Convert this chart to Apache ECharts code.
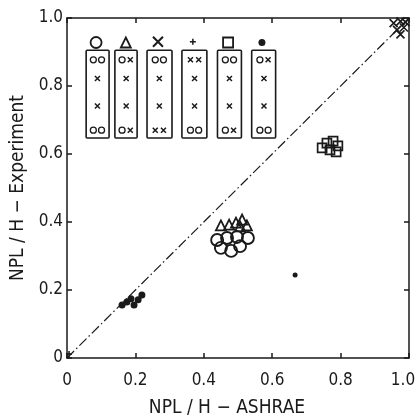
<!DOCTYPE html>
<html>
<head>
<meta charset="utf-8">
<script src="https://cdn.jsdelivr.net/npm/echarts@6/dist/echarts.min.js"></script>
<style>
  html, body { margin: 0; padding: 0; background: #fff; }
  #chart { width: 419px; height: 418px; }
</style>
</head>
<body>
<div id="chart"></div>
<script>
// 轴刻度
const ticks = [0, 0.2, 0.4, 0.6, 0.8, 1.0];
const tickLabels = ['0', '0.2', '0.4', '0.6', '0.8', '1.0'];

// 测量点 [ASHRAE, Experiment]
const circlePts = [[0.439, 0.347], [0.468, 0.353], [0.497, 0.356], [0.529, 0.353], [0.450, 0.324], [0.480, 0.315], [0.506, 0.329]];
const trianglePts = [[0.450, 0.390], [0.474, 0.392], [0.494, 0.398], [0.512, 0.407], [0.526, 0.390], [0.506, 0.387]];
const crossPts = [[0.955, 0.985], [0.975, 0.99], [0.965, 0.965], [0.985, 0.972], [0.975, 0.952], [0.99, 0.988]];
const plusPts = [[0.006, 0.012]];
const squarePts = [[0.746, 0.618], [0.760, 0.632], [0.778, 0.638], [0.792, 0.624], [0.769, 0.612], [0.787, 0.606]];
const dotPts = [[0.161, 0.156], [0.175, 0.165], [0.187, 0.174], [0.196, 0.156], [0.208, 0.171], [0.219, 0.185]];
const strayDot = [[0.667, 0.244]];
const diagonal = [[0, 0], [1, 1]];

// 图例框（左上）：[x0, x1, y0, y1]
const insetBoxes = [
  [0.056, 0.123, 0.647, 0.905], [0.140, 0.205, 0.647, 0.905], [0.234, 0.307, 0.647, 0.905],
  [0.336, 0.409, 0.647, 0.905], [0.440, 0.510, 0.647, 0.905], [0.540, 0.610, 0.647, 0.905]
];
const insetHeadCircle = [[0.085, 0.928]];
const insetHeadTriangle = [[0.172, 0.928]];
const insetHeadCross = [[0.266, 0.930]];
const insetHeadPlus = [[0.368, 0.930]];
const insetHeadSquare = [[0.471, 0.928]];
const insetHeadDot = [[0.570, 0.928]];
const insetCircles = [
  [0.077, 0.877], [0.101, 0.877], [0.077, 0.670], [0.101, 0.670],
  [0.161, 0.877], [0.161, 0.670],
  [0.258, 0.877], [0.282, 0.877],
  [0.361, 0.670], [0.385, 0.670],
  [0.463, 0.877], [0.487, 0.877], [0.463, 0.670],
  [0.564, 0.877], [0.564, 0.670], [0.588, 0.670]
];
const insetCrosses = [
  [0.089, 0.822], [0.089, 0.741], [0.173, 0.822], [0.173, 0.741], [0.270, 0.822], [0.270, 0.741],
  [0.373, 0.822], [0.373, 0.741], [0.475, 0.822], [0.475, 0.741], [0.576, 0.822], [0.576, 0.741],
  [0.185, 0.877], [0.185, 0.670],
  [0.258, 0.670], [0.282, 0.670],
  [0.361, 0.877], [0.385, 0.877],
  [0.487, 0.670],
  [0.588, 0.877]
];

const ink = '#1a1a1a';
const fontFamily = 'DejaVu Sans Condensed, DejaVu Sans, sans-serif';
const crossPath = 'path://M0,0L10,10M10,0L0,10';
const plusPath = 'path://M5,0L5,10M0,5L10,5';

function fmtTick(v) {
  const i = ticks.findIndex(t => Math.abs(t - v) < 1e-6);
  return i >= 0 ? tickLabels[i] : '';
}

// x 轴最后一个标签稍微左移，避免被裁掉
function fmtTickX(v) {
  const s = fmtTick(v);
  return Math.abs(v - 1) < 1e-6 ? '{end|' + s + '}' : s;
}

const baseAxis = {
  type: 'value',
  min: 0,
  max: 1,
  interval: 0.2,
  axisLine: { show: true, onZero: false, lineStyle: { color: ink, width: 1.5 } },
  axisTick: { show: true, inside: true, length: 5, lineStyle: { color: ink, width: 1.5 } },
  splitLine: { show: false }
};

function hollow(data, symbol, size, width) {
  return {
    type: 'scatter', data, symbol, symbolSize: size, silent: true,
    itemStyle: { color: 'transparent', borderColor: ink, borderWidth: width || 1.5, opacity: 1 },
    z: 5
  };
}

function filled(data, size) {
  return {
    type: 'scatter', data, symbol: 'circle', symbolSize: size, silent: true,
    itemStyle: { color: ink, opacity: 1 }, z: 5
  };
}

const chart = echarts.init(document.getElementById('chart'));

const option = {
  backgroundColor: '#fff',
  animation: false,
  grid: { left: 67, right: 10, top: 18, bottom: 60, outerBoundsMode: 'none', containLabel: false },
  xAxis: [
    {
      ...baseAxis,
      position: 'bottom',
      axisLabel: {
        color: ink, fontSize: 17, fontFamily, margin: 14, formatter: fmtTickX,
        rich: { end: { color: ink, fontSize: 17, fontFamily, padding: [0, 12, 0, 0] } }
      },
      name: 'NPL / H − ASHRAE',
      nameLocation: 'middle',
      nameGap: 41,
      nameTextStyle: { color: ink, fontSize: 19, fontFamily, padding: [0, 22, 0, 0] }
    },
    { ...baseAxis, position: 'top', axisLabel: { show: false } }
  ],
  yAxis: [
    {
      ...baseAxis,
      position: 'left',
      axisLabel: { color: ink, fontSize: 17, fontFamily, margin: 4, formatter: fmtTick },
      name: 'NPL / H − Experiment',
      nameLocation: 'middle',
      nameGap: 28,
      nameTextStyle: { color: ink, fontSize: 19, fontFamily }
    },
    { ...baseAxis, position: 'right', axisLabel: { show: false } }
  ],
  series: [
    {
      type: 'line',
      data: diagonal,
      showSymbol: false,
      silent: true,
      lineStyle: { color: ink, width: 1.2, type: [10, 3, 1.5, 3] },
      z: 3
    },
    // 图例框
    {
      type: 'custom',
      data: insetBoxes,
      silent: true,
      renderItem: function (params, api) {
        const p0 = api.coord([api.value(0), api.value(3)]);
        const p1 = api.coord([api.value(1), api.value(2)]);
        return {
          type: 'rect',
          shape: { x: p0[0], y: p0[1], width: p1[0] - p0[0], height: p1[1] - p0[1], r: 1 },
          style: { fill: 'none', stroke: ink, lineWidth: 1.6 }
        };
      },
      z: 4
    },
    hollow(insetHeadCircle, 'circle', 11, 1.8),
    hollow(insetHeadTriangle, 'triangle', 10, 1.8),
    hollow(insetHeadCross, crossPath, 10, 2),
    hollow(insetHeadPlus, plusPath, 6, 1.5),
    hollow(insetHeadSquare, 'rect', 10, 1.8),
    filled(insetHeadDot, 7),
    hollow(insetCircles, 'circle', 6, 1.3),
    hollow(insetCrosses, crossPath, 5, 1.5),
    // 数据点
    hollow(circlePts, 'circle', 12, 1.9),
    hollow(trianglePts, 'triangle', 10, 1.8),
    hollow(crossPts, crossPath, 8, 1.6),
    hollow(plusPts, plusPath, 6, 1.5),
    hollow(squarePts, 'rect', 9, 1.7),
    filled(dotPts, 7),
    filled(strayDot, 5)
  ]
};

chart.setOption(option);
</script>
</body>
</html>
